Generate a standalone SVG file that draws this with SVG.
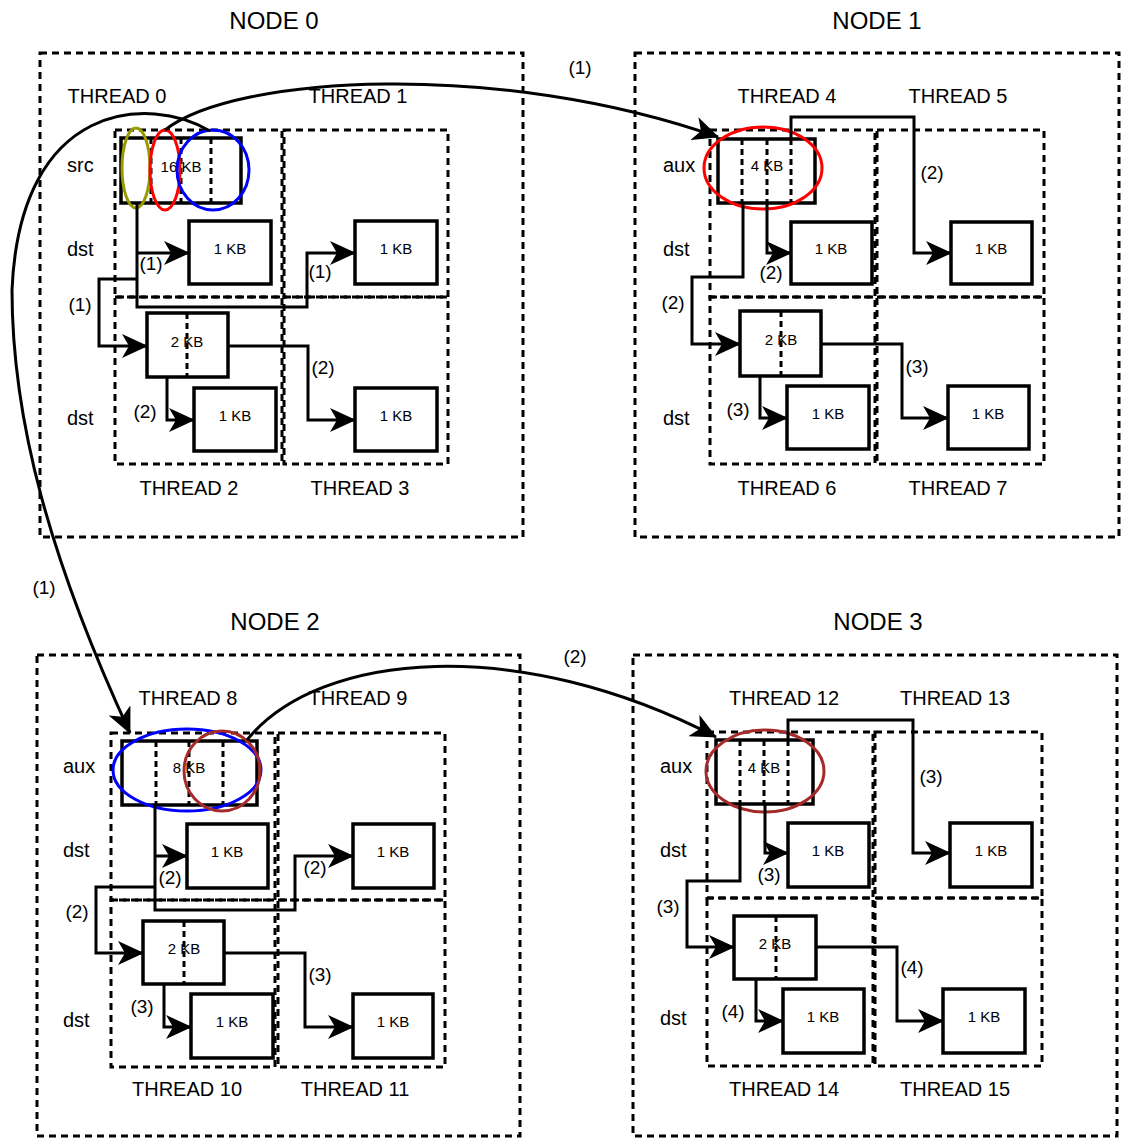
<svg xmlns="http://www.w3.org/2000/svg" width="1121" height="1138" viewBox="0 0 1121 1138">
<defs>
<style>
text{font-family:"Liberation Sans",Arial,sans-serif;fill:#000}
.title{font-size:24px;text-anchor:middle}
.thl{font-size:20px;text-anchor:middle}
.lab{font-size:20px}
.kb{font-size:15px;text-anchor:middle}
.num{font-size:19px;text-anchor:middle}
.outer,.thr{fill:none;stroke:#000;stroke-width:3;stroke-dasharray:7 5}
.box{fill:#fff;stroke:#000;stroke-width:3.5}
.div{stroke:#000;stroke-width:3;stroke-dasharray:6 4}
.ell{fill:none;stroke-width:3}
.con{fill:none;stroke:#000;stroke-width:3;marker-end:url(#arr)}
</style>
<marker id="arr" markerUnits="userSpaceOnUse" viewBox="0 0 26 24" markerWidth="26" markerHeight="24" refX="25" refY="12" orient="auto">
<path d="M0,0 L26,12 L0,24 L7,12 Z" fill="#000"/>
</marker>
</defs>
<rect x="0" y="0" width="1121" height="1138" fill="#fff"/>

<g id="node0">
<text class="title" x="274" y="29">NODE 0</text>
<rect class="outer" x="40" y="53" width="483" height="484"/>
<rect class="thr" x="115" y="130" width="167" height="167"/>
<rect class="thr" x="284" y="130" width="164" height="167"/>
<rect class="thr" x="115" y="297" width="167" height="167"/>
<rect class="thr" x="284" y="297" width="164" height="167"/>
<text class="thl" x="117" y="103">THREAD 0</text>
<text class="thl" x="358" y="103">THREAD 1</text>
<text class="thl" x="189" y="495">THREAD 2</text>
<text class="thl" x="360" y="495">THREAD 3</text>
<text class="lab" x="67" y="172">src</text>
<text class="lab" x="67" y="256">dst</text>
<text class="lab" x="67" y="425">dst</text>
<g id="n0-src">
<rect class="box" x="121" y="138" width="120" height="65"/>
<line class="div" x1="151" y1="138" x2="151" y2="203"/>
<line class="div" x1="181" y1="138" x2="181" y2="203"/>
<line class="div" x1="211" y1="138" x2="211" y2="203"/>
<text class="kb" x="181" y="172">16 KB</text>
</g>
<rect class="box" x="189" y="221" width="82" height="63"/><text class="kb" x="230" y="254">1 KB</text>
<rect class="box" x="355" y="221" width="82" height="63"/><text class="kb" x="396" y="254">1 KB</text>
<rect class="box" x="147" y="313" width="81" height="64"/><line class="div" x1="187" y1="313" x2="187" y2="377"/><text class="kb" x="187" y="347">2 KB</text>
<rect class="box" x="194" y="388" width="82" height="63"/><text class="kb" x="235" y="421">1 KB</text>
<rect class="box" x="355" y="388" width="82" height="63"/><text class="kb" x="396" y="421">1 KB</text>
<ellipse class="ell" stroke="#999900" cx="136" cy="168" rx="14" ry="40"/>
<ellipse class="ell" stroke="#ff0000" cx="165" cy="170" rx="15" ry="40"/>
<ellipse class="ell" stroke="#0000ff" cx="213" cy="170" rx="36" ry="40"/>
</g>

<g id="node1">
<text class="title" x="877" y="29">NODE 1</text>
<rect class="outer" x="635" y="53" width="484" height="484"/>
<rect class="thr" x="710" y="130" width="165" height="167"/>
<rect class="thr" x="877" y="130" width="167" height="167"/>
<rect class="thr" x="710" y="297" width="165" height="167"/>
<rect class="thr" x="877" y="297" width="167" height="167"/>
<text class="thl" x="787" y="103">THREAD 4</text>
<text class="thl" x="958" y="103">THREAD 5</text>
<text class="thl" x="787" y="495">THREAD 6</text>
<text class="thl" x="958" y="495">THREAD 7</text>
<text class="lab" x="663" y="172">aux</text>
<text class="lab" x="663" y="256">dst</text>
<text class="lab" x="663" y="425">dst</text>
<rect class="box" x="718" y="139" width="97" height="64"/>
<line class="div" x1="742" y1="139" x2="742" y2="203"/>
<line class="div" x1="767" y1="139" x2="767" y2="203"/>
<line class="div" x1="791" y1="139" x2="791" y2="203"/>
<text class="kb" x="767" y="171">4 KB</text>
<rect class="box" x="791" y="222" width="81" height="62"/><text class="kb" x="831" y="254">1 KB</text>
<rect class="box" x="951" y="222" width="81" height="62"/><text class="kb" x="991" y="254">1 KB</text>
<rect class="box" x="740" y="311" width="81" height="65"/><line class="div" x1="781" y1="311" x2="781" y2="376"/><text class="kb" x="781" y="345">2 KB</text>
<rect class="box" x="787" y="386" width="82" height="63"/><text class="kb" x="828" y="419">1 KB</text>
<rect class="box" x="948" y="386" width="81" height="63"/><text class="kb" x="988" y="419">1 KB</text>
<ellipse class="ell" stroke="#ff0000" cx="763" cy="168" rx="59" ry="41"/>
</g>

<g id="node2">
<text class="title" x="275" y="630">NODE 2</text>
<rect class="outer" x="37" y="655" width="483" height="481"/>
<rect class="thr" x="111" y="733" width="164" height="167"/>
<rect class="thr" x="278" y="733" width="167" height="167"/>
<rect class="thr" x="111" y="900" width="164" height="167"/>
<rect class="thr" x="278" y="900" width="167" height="167"/>
<text class="thl" x="188" y="705">THREAD 8</text>
<text class="thl" x="358" y="705">THREAD 9</text>
<text class="thl" x="187" y="1096">THREAD 10</text>
<text class="thl" x="355" y="1096">THREAD 11</text>
<text class="lab" x="63" y="773">aux</text>
<text class="lab" x="63" y="857">dst</text>
<text class="lab" x="63" y="1027">dst</text>
<rect class="box" x="122" y="741" width="135" height="64"/>
<line class="div" x1="156" y1="741" x2="156" y2="805"/>
<line class="div" x1="189" y1="741" x2="189" y2="805"/>
<line class="div" x1="223" y1="741" x2="223" y2="805"/>
<text class="kb" x="189" y="773">8 KB</text>
<rect class="box" x="187" y="824" width="81" height="64"/><text class="kb" x="227" y="857">1 KB</text>
<rect class="box" x="353" y="824" width="81" height="64"/><text class="kb" x="393" y="857">1 KB</text>
<rect class="box" x="143" y="921" width="81" height="63"/><line class="div" x1="184" y1="921" x2="184" y2="984"/><text class="kb" x="184" y="954">2 KB</text>
<rect class="box" x="191" y="994" width="82" height="64"/><text class="kb" x="232" y="1027">1 KB</text>
<rect class="box" x="353" y="994" width="80" height="64"/><text class="kb" x="393" y="1027">1 KB</text>
<ellipse class="ell" stroke="#0000ff" cx="187" cy="770" rx="74" ry="41"/>
<ellipse class="ell" stroke="#a52a2a" cx="222" cy="771" rx="38" ry="40"/>
</g>

<g id="node3">
<text class="title" x="878" y="630">NODE 3</text>
<rect class="outer" x="633" y="655" width="484" height="481"/>
<rect class="thr" x="707" y="732" width="166" height="166"/>
<rect class="thr" x="875" y="732" width="167" height="166"/>
<rect class="thr" x="707" y="898" width="166" height="168"/>
<rect class="thr" x="875" y="898" width="167" height="168"/>
<text class="thl" x="784" y="705">THREAD 12</text>
<text class="thl" x="955" y="705">THREAD 13</text>
<text class="thl" x="784" y="1096">THREAD 14</text>
<text class="thl" x="955" y="1096">THREAD 15</text>
<text class="lab" x="660" y="773">aux</text>
<text class="lab" x="660" y="857">dst</text>
<text class="lab" x="660" y="1025">dst</text>
<rect class="box" x="716" y="740" width="97" height="64"/>
<line class="div" x1="740" y1="740" x2="740" y2="804"/>
<line class="div" x1="764" y1="740" x2="764" y2="804"/>
<line class="div" x1="788" y1="740" x2="788" y2="804"/>
<text class="kb" x="764" y="773">4 KB</text>
<rect class="box" x="788" y="823" width="81" height="64"/><text class="kb" x="828" y="856">1 KB</text>
<rect class="box" x="950" y="823" width="82" height="64"/><text class="kb" x="991" y="856">1 KB</text>
<rect class="box" x="734" y="916" width="82" height="63"/><line class="div" x1="776" y1="916" x2="776" y2="979"/><text class="kb" x="775" y="949">2 KB</text>
<rect class="box" x="783" y="989" width="81" height="64"/><text class="kb" x="823" y="1022">1 KB</text>
<rect class="box" x="943" y="989" width="82" height="64"/><text class="kb" x="984" y="1022">1 KB</text>
<ellipse class="ell" stroke="#a52a2a" cx="765" cy="771" rx="59" ry="41"/>
</g>

<g id="connectors">
<path class="con" d="M137,203 V307 H307 V253 H355"/>
<path class="con" d="M137,253 H189"/>
<path class="con" d="M137,279 H99 V346 H147"/>
<path class="con" d="M167,377 V420 H194"/>
<path class="con" d="M228,346 H308 V420 H355"/>
<text class="num" x="151" y="270">(1)</text>
<text class="num" x="320" y="278">(1)</text>
<text class="num" x="80" y="311">(1)</text>
<text class="num" x="323" y="374">(2)</text>
<text class="num" x="145" y="418">(2)</text>

<path class="con" d="M767,203 V253 H791"/>
<path class="con" d="M743,203 V277 H692 V344 H740"/>
<path class="con" d="M791,139 V117 H914 V253 H951"/>
<path class="con" d="M760,376 V418 H787"/>
<path class="con" d="M821,344 H902 V418 H948"/>
<text class="num" x="771" y="279">(2)</text>
<text class="num" x="673" y="309">(2)</text>
<text class="num" x="932" y="179">(2)</text>
<text class="num" x="738" y="416">(3)</text>
<text class="num" x="917" y="373">(3)</text>

<path class="con" d="M155,805 V910 H295 V856 H353"/>
<path class="con" d="M155,856 H187"/>
<path class="con" d="M155,887 H96 V953 H143"/>
<path class="con" d="M164,984 V1027 H191"/>
<path class="con" d="M224,953 H305 V1027 H353"/>
<text class="num" x="170" y="884">(2)</text>
<text class="num" x="315" y="874">(2)</text>
<text class="num" x="77" y="918">(2)</text>
<text class="num" x="142" y="1013">(3)</text>
<text class="num" x="320" y="981">(3)</text>

<path class="con" d="M765,804 V853 H788"/>
<path class="con" d="M740,804 V881 H687 V947 H734"/>
<path class="con" d="M788,740 V720 H913 V853 H950"/>
<path class="con" d="M756,979 V1021 H783"/>
<path class="con" d="M816,947 H897 V1021 H943"/>
<text class="num" x="769" y="881">(3)</text>
<text class="num" x="668" y="913">(3)</text>
<text class="num" x="931" y="783">(3)</text>
<text class="num" x="733" y="1018">(4)</text>
<text class="num" x="912" y="974">(4)</text>

<path class="con" d="M165,130 C235,75 500,60 718,137"/>
<text class="num" x="580" y="74">(1)</text>
<path class="con" d="M210,131 C150,95 20,100 12,290 C12,420 50,560 130,733"/>
<text class="num" x="44" y="594">(1)</text>
<path class="con" d="M247,740 C320,650 520,635 716,737"/>
<text class="num" x="575" y="663">(2)</text>
</g>
</svg>
